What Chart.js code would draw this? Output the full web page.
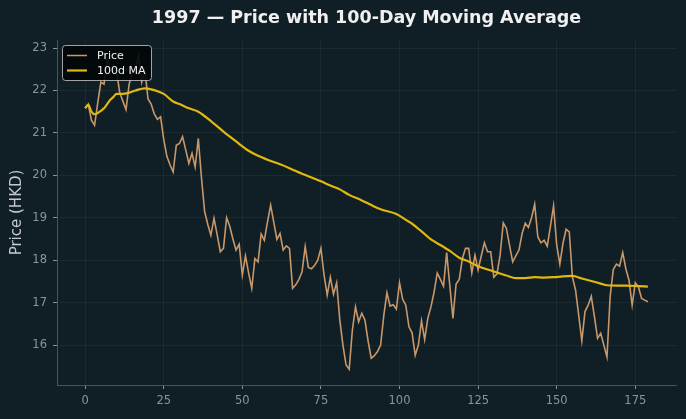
<!DOCTYPE html>
<html>
<head>
<meta charset="utf-8">
<script src="https://cdn.jsdelivr.net/npm/chart.js@4"></script>
<style>
  html, body { margin: 0; padding: 0; background: #101f25; }
  #wrap { width: 686px; height: 419px; }
</style>
</head>
<body>
<div id="wrap"><canvas id="chart" width="686" height="419"></canvas></div>
<script>
// daily closing price, day 0..179
var priceValues = [
  21.58, 21.68, 21.30, 21.18, 21.70, 22.20, 22.15, 22.75, 22.50, 22.60,
  22.45, 21.95, 21.75, 21.55, 22.15, 22.40, 22.50, 22.82, 22.20, 22.50,
  21.80, 21.68, 21.45, 21.32, 21.38, 20.85, 20.45, 20.25, 20.08, 20.71,
  20.75, 20.91, 20.60, 20.28, 20.52, 20.20, 20.87, 19.95, 19.15, 18.85,
  18.59, 18.99, 18.60, 18.20, 18.28, 19.00, 18.80, 18.50, 18.24, 18.38,
  17.65, 18.10, 17.70, 17.34, 18.04, 17.96, 18.62, 18.47, 18.90, 19.30,
  18.90, 18.49, 18.63, 18.24, 18.34, 18.28, 17.34, 17.42, 17.55, 17.73,
  18.32, 17.83, 17.80, 17.88, 18.00, 18.28, 17.65, 17.18, 17.60, 17.20,
  17.47, 16.60, 16.00, 15.53, 15.43, 16.35, 16.90, 16.55, 16.75, 16.59,
  16.10, 15.69, 15.75, 15.85, 16.00, 16.70, 17.23, 16.92, 16.95, 16.85,
  17.47, 17.08, 16.94, 16.43, 16.29, 15.76, 16.00, 16.57, 16.13, 16.63,
  16.90, 17.25, 17.70, 17.55, 17.39, 18.18, 17.40, 16.63, 17.44, 17.55,
  18.04, 18.28, 18.28, 17.70, 18.12, 17.77, 18.10, 18.41, 18.20, 18.20,
  17.60, 17.68, 18.12, 18.88, 18.75, 18.35, 17.96, 18.10, 18.24, 18.63,
  18.87, 18.77, 19.00, 19.32, 18.55, 18.41, 18.47, 18.33, 18.80, 19.28,
  18.36, 17.91, 18.40, 18.73, 18.67, 17.60, 17.30, 16.70, 16.10, 16.79,
  16.94, 17.15, 16.67, 16.16, 16.28, 16.00, 15.72, 17.15, 17.78, 17.91,
  17.86, 18.18, 17.80, 17.53, 16.94, 17.47, 17.37, 17.10, 17.06, 17.02
];
var priceDays = priceValues.map(function (v, i) { return i; });

var maDays = [0, 1, 2, 3, 4, 5, 6, 7, 8, 9, 10, 12, 14, 16, 19, 22, 25, 28, 30, 33,
  36, 40, 44, 48, 52, 55, 58, 62, 65, 69, 72, 75, 78, 81, 84, 88, 91, 94, 99, 102,
  104, 107, 110, 113, 116, 119, 122, 125, 128, 131, 134, 137, 140, 143, 146, 149,
  152, 155, 158, 161, 164, 166, 169, 172, 176, 179];
var maValues = [21.58, 21.66, 21.50, 21.44, 21.47, 21.52, 21.58, 21.68, 21.78, 21.85,
  21.92, 21.92, 21.95, 22.00, 22.05, 22.01, 21.92, 21.74, 21.68, 21.58,
  21.50, 21.28, 21.03, 20.80, 20.58, 20.46, 20.37, 20.26, 20.17, 20.04,
  19.95, 19.86, 19.76, 19.67, 19.54, 19.41, 19.30, 19.20, 19.09, 18.95,
  18.86, 18.68, 18.49, 18.36, 18.22, 18.06, 17.97, 17.86, 17.78, 17.71,
  17.64, 17.58, 17.58, 17.60, 17.59, 17.60, 17.62, 17.63, 17.57, 17.51,
  17.45, 17.41, 17.40, 17.40, 17.39, 17.38];

var xTicks = [0, 25, 50, 75, 100, 125, 150, 175];
var yTicks = [16, 17, 18, 19, 20, 21, 22, 23];

var titleText = '1997 \u2014 Price with 100-Day Moving Average';
var priceColor = '#c8976a';
var maColor = '#e1b80f';

var bgPlugin = {
  id: 'bg',
  beforeDraw: function (chart) {
    var c = chart.ctx;
    c.save();
    c.fillStyle = '#101f25';
    c.fillRect(0, 0, chart.width, chart.height);
    c.restore();
  }
};

// title centred over the plot area, like matplotlib
var titlePlugin = {
  id: 'plotTitle',
  afterDraw: function (chart) {
    var a = chart.chartArea, c = chart.ctx;
    c.save();
    c.font = 'bold 17.5px "DejaVu Sans"';
    c.fillStyle = '#f0f0f0';
    c.textAlign = 'center';
    c.textBaseline = 'middle';
    c.fillText(titleText, (a.left + a.right) / 2, 18.5);
    c.restore();
  }
};

// legend box drawn inside the plot, upper left
var legendPlugin = {
  id: 'boxLegend',
  afterDatasetsDraw: function (chart) {
    var a = chart.chartArea, c = chart.ctx;
    var x = a.left + 5, y = a.top + 5, w = 89, h = 35;
    c.save();
    c.beginPath();
    c.roundRect(x + 0.5, y + 0.5, w, h, 3);
    c.fillStyle = 'rgba(2,6,8,0.9)';
    c.fill();
    c.strokeStyle = 'rgba(200,200,200,0.8)';
    c.lineWidth = 1;
    c.stroke();
    var items = [['Price', priceColor, 1.5], ['100d MA', maColor, 2.2]];
    c.font = '11px "DejaVu Sans"';
    c.textBaseline = 'middle';
    items.forEach(function (it, k) {
      var ly = y + 10.5 + k * 15;
      c.beginPath();
      c.moveTo(x + 5, ly);
      c.lineTo(x + 25, ly);
      c.strokeStyle = it[1];
      c.lineWidth = it[2];
      c.stroke();
      c.fillStyle = '#f0f0f0';
      c.fillText(it[0], x + 35, ly + 0.5);
    });
    c.restore();
  }
};

var ctx = document.getElementById('chart').getContext('2d');
new Chart(ctx, {
  type: 'line',
  data: {
    datasets: [{
      label: 'Price',
      data: priceDays.map(function (d, i) { return { x: d, y: priceValues[i] }; }),
      borderColor: priceColor,
      borderWidth: 1.6,
      pointRadius: 0,
      tension: 0,
      order: 2
    }, {
      label: '100d MA',
      data: maDays.map(function (d, i) { return { x: d, y: maValues[i] }; }),
      borderColor: maColor,
      borderWidth: 2.2,
      pointRadius: 0,
      cubicInterpolationMode: 'monotone',
      order: 1
    }]
  },
  options: {
    responsive: false,
    animation: false,
    events: [],
    layout: { padding: { left: 0, right: 10, top: 40, bottom: 0 } },
    plugins: {
      legend: { display: false },
      title: { display: false },
      tooltip: { enabled: false }
    },
    scales: {
      x: {
        type: 'linear',
        min: -8.95,
        max: 187.95,
        afterFit: function (s) { s.height = 34; },
        afterBuildTicks: function (s) {
          s.ticks = xTicks.map(function (v) { return { value: v }; });
        },
        grid: {
          color: 'rgba(255,255,255,0.05)',
          tickColor: '#8a9296',
          tickLength: 4
        },
        border: { color: '#4a5356' },
        ticks: {
          color: '#8a9599',
          font: { family: 'DejaVu Sans', size: 11.5 },
          padding: 5,
          maxRotation: 0
        }
      },
      y: {
        min: 15.06,
        max: 23.19,
        afterFit: function (s) { s.width = 57; },
        afterBuildTicks: function (s) {
          s.ticks = yTicks.map(function (v) { return { value: v }; });
        },
        grid: {
          color: 'rgba(255,255,255,0.05)',
          tickColor: '#8a9296',
          tickLength: 4
        },
        border: { color: '#4a5356' },
        ticks: {
          color: '#8a9599',
          font: { family: 'DejaVu Sans', size: 11.5 },
          padding: 6
        },
        title: {
          display: true,
          text: 'Price (HKD)',
          color: '#c2cace',
          font: { family: 'DejaVu Sans', size: 15 },
          padding: { top: 8, bottom: 0 }
        }
      }
    }
  },
  plugins: [bgPlugin, titlePlugin, legendPlugin]
});
</script>
</body>
</html>
